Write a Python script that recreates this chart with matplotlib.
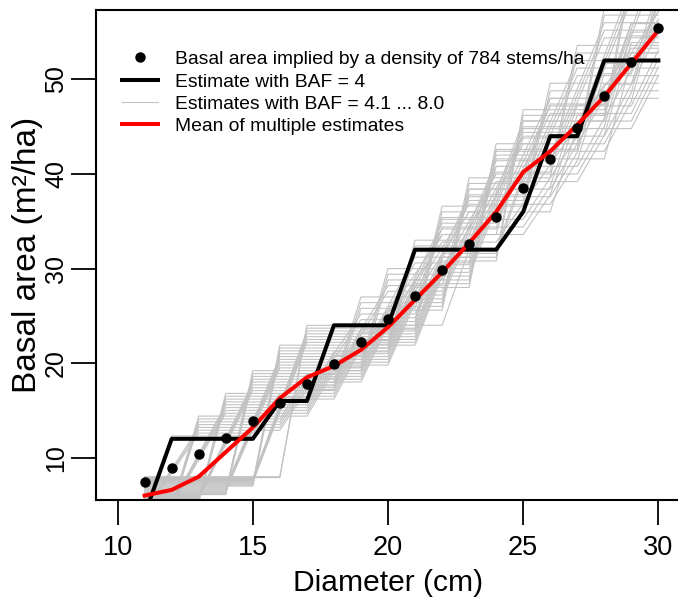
import matplotlib
matplotlib.use("Agg")
import matplotlib.pyplot as plt
import numpy as np

plt.rcParams["font.family"] = ["Liberation Sans", "DejaVu Sans"]

# diameters (cm) on the x axis
diameters = [11, 12, 13, 14, 15, 16, 17, 18, 19, 20,
             21, 22, 23, 24, 25, 26, 27, 28, 29, 30]

# basal area implied by 784 stems/ha (dots)
implied_ba = [7.45, 8.87, 10.41, 12.07, 13.85, 15.76, 17.80, 19.95, 22.23, 24.63,
              27.15, 29.80, 32.57, 35.47, 38.48, 41.63, 44.89, 48.28, 51.79, 55.42]

# estimate with BAF = 4 (thick black line)
est_baf4 = [4, 12, 12, 12, 12, 16, 16, 24, 24, 24,
            32, 32, 32, 32, 36, 44, 44, 52, 52, 52]

# mean of the multiple estimates (red line)
mean_est = [6.0, 6.6, 8.0, 10.6, 13.2, 16.3, 18.5, 19.7, 21.4, 23.8,
            26.7, 29.6, 32.7, 36.0, 40.2, 42.4, 45.2, 48.2, 51.7, 55.2]

# other basal area factors (grey lines)
bafs = [4.1, 4.2, 4.3, 4.4, 4.5, 4.6, 4.7, 4.8, 4.9, 5.0,
        5.1, 5.2, 5.3, 5.4, 5.5, 5.6, 5.7, 5.8, 5.9, 6.0,
        6.1, 6.2, 6.3, 6.4, 6.5, 6.6, 6.7, 6.8, 6.9, 7.0,
        7.1, 7.2, 7.3, 7.4, 7.5, 7.6, 7.7, 7.8, 7.9, 8.0]

# tree counts per BAF (rows) and diameter (columns)
tree_counts = [
    [1, 3, 3, 3, 3, 4, 4, 5, 6, 6, 7, 8, 8, 8, 9, 10, 11, 12, 13, 13],
    [1, 2, 3, 3, 3, 4, 4, 5, 6, 6, 7, 8, 8, 8, 8, 9, 11, 11, 13, 13],
    [1, 2, 3, 3, 3, 3, 4, 4, 6, 6, 6, 8, 8, 8, 8, 9, 11, 11, 13, 13],
    [1, 2, 3, 3, 3, 3, 4, 4, 6, 6, 6, 8, 8, 8, 8, 9, 10, 11, 12, 13],
    [1, 1, 3, 3, 3, 3, 4, 4, 6, 6, 6, 7, 8, 8, 8, 8, 10, 11, 11, 13],
    [1, 1, 3, 3, 3, 3, 4, 4, 5, 6, 6, 7, 8, 8, 8, 8, 9, 11, 11, 13],
    [1, 1, 3, 3, 3, 3, 4, 4, 5, 6, 6, 6, 8, 8, 8, 8, 9, 11, 11, 12],
    [1, 1, 3, 3, 3, 3, 3, 4, 4, 6, 6, 6, 8, 8, 8, 8, 9, 10, 11, 11],
    [1, 1, 2, 3, 3, 3, 3, 4, 4, 6, 6, 6, 7, 8, 8, 8, 8, 9, 11, 11],
    [1, 1, 2, 3, 3, 3, 3, 4, 4, 6, 6, 6, 7, 8, 8, 8, 8, 9, 11, 11],
    [1, 1, 2, 3, 3, 3, 3, 4, 4, 5, 6, 6, 6, 8, 8, 8, 8, 9, 10, 11],
    [1, 1, 2, 3, 3, 3, 3, 4, 4, 5, 6, 6, 6, 8, 8, 8, 8, 8, 10, 11],
    [1, 1, 1, 3, 3, 3, 3, 4, 4, 4, 6, 6, 6, 8, 8, 8, 8, 8, 9, 11],
    [1, 1, 1, 3, 3, 3, 3, 3, 4, 4, 6, 6, 6, 7, 8, 8, 8, 8, 9, 11],
    [1, 1, 1, 3, 3, 3, 3, 3, 4, 4, 6, 6, 6, 7, 8, 8, 8, 8, 9, 10],
    [1, 1, 1, 3, 3, 3, 3, 3, 4, 4, 5, 6, 6, 6, 8, 8, 8, 8, 8, 9],
    [1, 1, 1, 2, 3, 3, 3, 3, 4, 4, 5, 6, 6, 6, 8, 8, 8, 8, 8, 9],
    [1, 1, 1, 2, 3, 3, 3, 3, 4, 4, 5, 6, 6, 6, 7, 8, 8, 8, 8, 9],
    [1, 1, 1, 2, 3, 3, 3, 3, 4, 4, 4, 6, 6, 6, 7, 8, 8, 8, 8, 9],
    [1, 1, 1, 2, 3, 3, 3, 3, 3, 4, 4, 6, 6, 6, 7, 8, 8, 8, 8, 8],
    [1, 1, 1, 1, 3, 3, 3, 3, 3, 4, 4, 6, 6, 6, 6, 8, 8, 8, 8, 8],
    [1, 1, 1, 1, 3, 3, 3, 3, 3, 4, 4, 5, 6, 6, 6, 8, 8, 8, 8, 8],
    [1, 1, 1, 1, 3, 3, 3, 3, 3, 4, 4, 5, 6, 6, 6, 7, 8, 8, 8, 8],
    [1, 1, 1, 1, 3, 3, 3, 3, 3, 4, 4, 4, 6, 6, 6, 7, 8, 8, 8, 8],
    [1, 1, 1, 1, 2, 3, 3, 3, 3, 4, 4, 4, 6, 6, 6, 7, 8, 8, 8, 8],
    [1, 1, 1, 1, 2, 3, 3, 3, 3, 3, 4, 4, 6, 6, 6, 6, 8, 8, 8, 8],
    [1, 1, 1, 1, 2, 3, 3, 3, 3, 3, 4, 4, 5, 6, 6, 6, 8, 8, 8, 8],
    [1, 1, 1, 1, 2, 3, 3, 3, 3, 3, 4, 4, 5, 6, 6, 6, 7, 8, 8, 8],
    [1, 1, 1, 1, 2, 3, 3, 3, 3, 3, 4, 4, 5, 6, 6, 6, 7, 8, 8, 8],
    [1, 1, 1, 1, 1, 3, 3, 3, 3, 3, 4, 4, 4, 6, 6, 6, 7, 8, 8, 8],
    [1, 1, 1, 1, 1, 3, 3, 3, 3, 3, 4, 4, 4, 6, 6, 6, 6, 8, 8, 8],
    [1, 1, 1, 1, 1, 3, 3, 3, 3, 3, 4, 4, 4, 6, 6, 6, 6, 8, 8, 8],
    [1, 1, 1, 1, 1, 3, 3, 3, 3, 3, 3, 4, 4, 5, 6, 6, 6, 7, 8, 8],
    [1, 1, 1, 1, 1, 2, 3, 3, 3, 3, 3, 4, 4, 5, 6, 6, 6, 7, 8, 8],
    [1, 1, 1, 1, 1, 2, 3, 3, 3, 3, 3, 4, 4, 5, 6, 6, 6, 7, 8, 8],
    [1, 1, 1, 1, 1, 2, 3, 3, 3, 3, 3, 4, 4, 5, 6, 6, 6, 6, 8, 8],
    [1, 1, 1, 1, 1, 2, 3, 3, 3, 3, 3, 4, 4, 4, 6, 6, 6, 6, 8, 8],
    [1, 1, 1, 1, 1, 2, 3, 3, 3, 3, 3, 4, 4, 4, 6, 6, 6, 6, 7, 8],
    [1, 1, 1, 1, 1, 1, 3, 3, 3, 3, 3, 4, 4, 4, 5, 6, 6, 6, 7, 8],
    [1, 1, 1, 1, 1, 1, 3, 3, 3, 3, 3, 3, 4, 4, 5, 6, 6, 6, 7, 7],
]

x_ticks = [10, 15, 20, 25, 30]
y_ticks = [10, 20, 30, 40, 50]

fig = plt.figure(figsize=(6.78, 5.99), dpi=100)
ax = fig.add_axes([96 / 678, 99 / 599, 584 / 678, 490 / 599])

grey_est = np.array(bafs)[:, None] * np.array(tree_counts)
for i, row in enumerate(grey_est):
    ax.plot(diameters, row, color="#c2c2c2", lw=0.8,
            label="Estimates with BAF = 4.1 ... 8.0" if i == 0 else None, zorder=1)

ax.plot(diameters, est_baf4, color="black", lw=2.9, solid_joinstyle="round",
        label="Estimate with BAF = 4", zorder=2)
ax.plot(diameters, mean_est, color="red", lw=2.9, solid_joinstyle="round",
        label="Mean of multiple estimates", zorder=3)
ax.plot(diameters, implied_ba, "o", color="black", ms=6.5, ls="none",
        label="Basal area implied by a density of 784 stems/ha", zorder=4)

ax.set_xlim(9.2, 30.8)
ax.set_ylim(5.53, 57.34)
ax.set_xticks(x_ticks)
ax.set_yticks(y_ticks)
ax.tick_params(axis="both", direction="out", length=18, width=1.3)
ax.tick_params(axis="x", labelsize=19.5, pad=7)
ax.tick_params(axis="y", labelsize=18, pad=2)
for lab in ax.get_yticklabels():
    lab.set_rotation(90)
    lab.set_va("center")
for sp in ax.spines.values():
    sp.set_linewidth(1.5)

ax.set_xlabel("Diameter (cm)", fontsize=21.6, labelpad=6)
ax.set_ylabel("Basal area (m²/ha)", fontsize=24, labelpad=1)

handles, labels = ax.get_legend_handles_labels()
order = [3, 1, 0, 2]
ax.legend([handles[k] for k in order], [labels[k] for k in order],
          loc="upper left", bbox_to_anchor=(0.044, 0.917), frameon=False,
          fontsize=13.9, handlelength=1.9, handletextpad=0.85,
          labelspacing=0.25, borderpad=0, borderaxespad=0)

fig.savefig("out.png", dpi=100)
